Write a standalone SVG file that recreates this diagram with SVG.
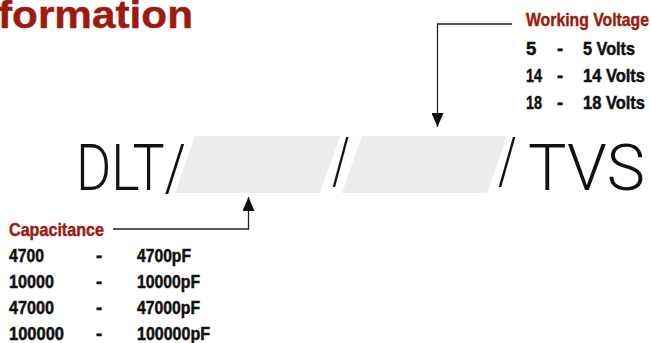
<svg xmlns="http://www.w3.org/2000/svg" width="651" height="343" viewBox="0 0 651 343">
<style>
.red{fill:#9c1b10;stroke:#9c1b10;stroke-width:0.45;font-family:"Liberation Sans",Arial,sans-serif;font-weight:bold}
.blk{fill:#111;stroke:#111;stroke-width:0.5;font-family:"Liberation Sans",Arial,sans-serif;font-weight:bold;font-size:18.5px}
.big{fill:#111;font-family:Roboto,Lato,"Liberation Sans",sans-serif;font-weight:300;font-size:64px}
.slot{fill:#ececec}
.conn{fill:none;stroke:#222;stroke-width:1.3}
</style>
<defs>
<marker id="ah" markerUnits="userSpaceOnUse" markerWidth="14" markerHeight="12" refX="14" refY="6" orient="auto">
<path d="M0,0 L14,6 L0,12 z" fill="#111"/>
</marker>
</defs>
<rect width="651" height="343" fill="#fff"/>
<g id="title"><text class="red" x="-2" y="27.5" font-size="39" stroke-width="0.9" textLength="195" lengthAdjust="spacingAndGlyphs">formation</text></g>
<g id="part-number">
<polygon class="slot" points="195,136 340,136 320,193 175,193"/>
<polygon class="slot" points="362,136 507,136 487,193 342,193"/>
<text class="big" x="76" y="190" textLength="110" lengthAdjust="spacingAndGlyphs">DLT/</text>
<text class="big" x="332" y="183" font-size="56" textLength="18" lengthAdjust="spacingAndGlyphs">/</text>
<text class="big" x="498" y="183" font-size="56" textLength="19" lengthAdjust="spacingAndGlyphs">/</text>
<text class="big" x="528" y="190" textLength="117" lengthAdjust="spacingAndGlyphs">TVS</text>
</g>
<g id="working-voltage">
<text class="red" x="526" y="26" font-size="18.5" textLength="123" lengthAdjust="spacingAndGlyphs">Working Voltage</text>
<text class="blk" x="526" y="54.5">5</text><text class="blk" x="557" y="54.5">-</text><text class="blk" x="583" y="54.5" textLength="52" lengthAdjust="spacingAndGlyphs">5 Volts</text>
<text class="blk" x="526" y="81.5" textLength="16" lengthAdjust="spacingAndGlyphs">14</text><text class="blk" x="557" y="81.5">-</text><text class="blk" x="583" y="81.5" textLength="62" lengthAdjust="spacingAndGlyphs">14 Volts</text>
<text class="blk" x="526" y="108.5" textLength="16" lengthAdjust="spacingAndGlyphs">18</text><text class="blk" x="557" y="108.5">-</text><text class="blk" x="583" y="108.5" textLength="62" lengthAdjust="spacingAndGlyphs">18 Volts</text>
</g>
<g id="capacitance">
<text class="red" x="9" y="235.5" font-size="18.5" textLength="95" lengthAdjust="spacingAndGlyphs">Capacitance</text>
<text class="blk" x="9" y="262" textLength="35" lengthAdjust="spacingAndGlyphs">4700</text><text class="blk" x="96" y="262">-</text><text class="blk" x="137" y="262" textLength="54" lengthAdjust="spacingAndGlyphs">4700pF</text>
<text class="blk" x="9" y="288" textLength="45" lengthAdjust="spacingAndGlyphs">10000</text><text class="blk" x="96" y="288">-</text><text class="blk" x="137" y="288" textLength="63" lengthAdjust="spacingAndGlyphs">10000pF</text>
<text class="blk" x="9" y="314" textLength="45" lengthAdjust="spacingAndGlyphs">47000</text><text class="blk" x="96" y="314">-</text><text class="blk" x="137" y="314" textLength="63" lengthAdjust="spacingAndGlyphs">47000pF</text>
<text class="blk" x="9" y="340" textLength="55" lengthAdjust="spacingAndGlyphs">100000</text><text class="blk" x="96" y="340">-</text><text class="blk" x="137" y="340" textLength="73" lengthAdjust="spacingAndGlyphs">100000pF</text>
</g>
<g id="connectors">
<path class="conn" d="M512,24 H437.5 V127" marker-end="url(#ah)"/>
<path class="conn" d="M113,229 H248.5 V197" marker-end="url(#ah)"/>
</g>
</svg>
